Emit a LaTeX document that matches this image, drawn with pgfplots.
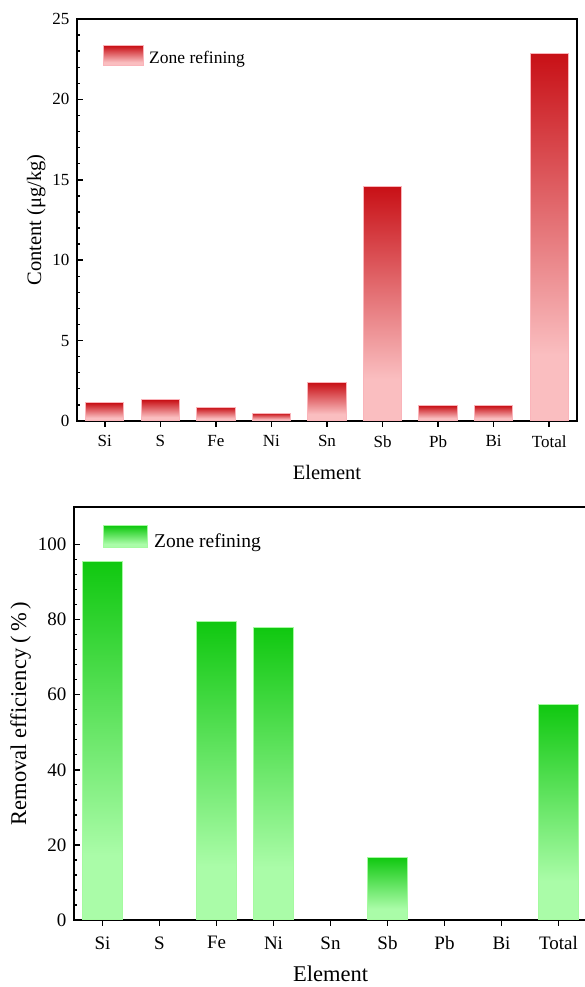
\documentclass[border=0pt]{standalone}
\usepackage{pgfplots}
\pgfplotsset{compat=1.18}
\usepackage{fontspec}
\setmainfont{Liberation Serif}

\definecolor{rdtop}{RGB}{200,16,22}
\definecolor{rdbot}{RGB}{250,190,192}
\definecolor{rdedge}{RGB}{250,180,186}
\definecolor{grtop}{RGB}{16,200,16}
\definecolor{grbot}{RGB}{170,252,168}
\definecolor{gredge}{RGB}{165,250,160}

\pgfdeclareverticalshading{redbar}{100bp}{color(0bp)=(rdbot); color(25bp)=(rdbot); color(34bp)=(rdbot); color(75bp)=(rdtop); color(100bp)=(rdtop)}
\pgfdeclareverticalshading{greenbar}{100bp}{color(0bp)=(grbot); color(25bp)=(grbot); color(34bp)=(grbot); color(75bp)=(grtop); color(100bp)=(grtop)}

\pgfplotsset{
  common/.style={
    scale only axis,
    xmin=-0.5, xmax=8.5, ymin=0,
    xtick={0,...,8},
    xticklabels={Si,S,Fe,Ni,Sn,Sb,Pb,Bi,Total},
    xtick pos=bottom, ytick pos=left,
    xtick align=outside, ytick align=inside,
    minor y tick num=4,
    major tick length=6pt, minor tick length=3.2pt,
    major tick style={line width=1.5pt, black},
    minor tick style={line width=1.3pt, black},
    axis line style={line width=2pt},
    /pgf/number format/assume math mode=true,
    y tick label style={xshift=-4pt},
    xlabel={Element},
    legend cell align=left,
    ybar, bar shift=0pt,
  },
  rb/.style={draw=rdedge, line width=1pt, shade, shading=redbar, forget plot},
  gb/.style={draw=gredge, line width=1pt, shade, shading=greenbar, forget plot},
  gz/.style={draw=none, fill=none, forget plot},
}

\begin{document}
\begin{tikzpicture}
\useasboundingbox (0pt,0pt) rectangle (584pt,987pt);

% ---------- top panel ----------
\begin{axis}[common,
  at={(77pt,566pt)}, anchor=south west,
  width=500pt, height=402pt,
  ymax=25, ytick={0,5,10,15,20,25},
  bar width=0.69,
  tick label style={font=\fontsize{17}{20}\selectfont},
  x tick label style={yshift=-5pt},
  label style={font=\fontsize{20.5}{24}\selectfont},
  xlabel style={yshift=-11pt},
  ylabel={Content (μg/kg)},
  legend style={at={(rel axis cs:0.052,0.935)}, anchor=north west, draw=none, fill=none,
     inner sep=0pt, font=\fontsize{17.5}{20}\selectfont, nodes={inner sep=0pt}, column sep=5pt},
  legend image code/.code={\path[#1] (0pt,-8pt) rectangle (40pt,12pt);},
]
\addplot[rb] coordinates {(0,1.12)};
\addplot[rb] coordinates {(1,1.31)};
\addplot[rb] coordinates {(2,0.85)};
\addplot[rb] coordinates {(3,0.48)};
\addplot[rb] coordinates {(4,2.38)};
\addplot[rb] coordinates {(5,14.57)};
\addplot[rb] coordinates {(6,0.95)};
\addplot[rb] coordinates {(7,0.95)};
\addplot[rb] coordinates {(8,22.86)};
\addlegendimage{draw=rdedge, line width=1pt, shade, shading=redbar}
\addlegendentry{Zone refining}
\end{axis}

% ---------- bottom panel ----------
\begin{axis}[common,
  at={(74pt,67pt)}, anchor=south west,
  width=513pt, height=413pt,
  ymax=110, ytick={0,20,40,60,80,100},
  bar width=0.71,
  tick label style={font=\fontsize{19}{22}\selectfont},
  x tick label style={yshift=-7pt},
  label style={font=\fontsize{22.5}{26}\selectfont},
  xlabel style={yshift=-9pt},
  ylabel={Removal efficiency (\,\%\,)},
  legend style={at={(rel axis cs:0.0565,0.956)}, anchor=north west, draw=none, fill=none,
     inner sep=0pt, font=\fontsize{19.5}{22}\selectfont, nodes={inner sep=0pt}, column sep=6pt},
  legend image code/.code={\path[#1] (0pt,-6pt) rectangle (44pt,16pt);},
]
\addplot[gb] coordinates {(0,95.5)};
\addplot[gz] coordinates {(1,0)};
\addplot[gb] coordinates {(2,79.4)};
\addplot[gb] coordinates {(3,77.8)};
\addplot[gz] coordinates {(4,0)};
\addplot[gb] coordinates {(5,16.7)};
\addplot[gz] coordinates {(6,0)};
\addplot[gz] coordinates {(7,0)};
\addplot[gb] coordinates {(8,57.5)};
\addlegendimage{draw=gredge, line width=1pt, shade, shading=greenbar}
\addlegendentry{Zone refining}
\end{axis}
\end{tikzpicture}
\end{document}
